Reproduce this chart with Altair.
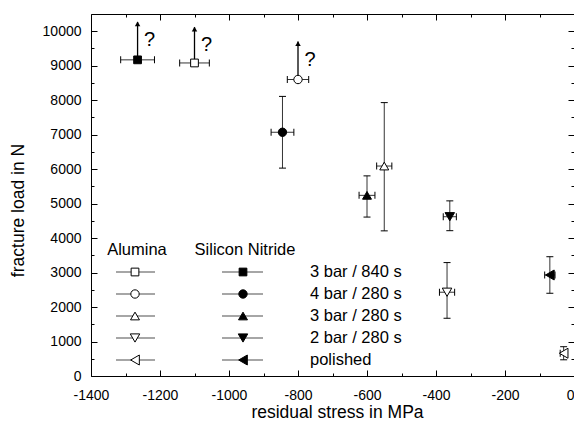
import altair as alt
import pandas as pd

materials = ["Alumina", "Silicon Nitride"]
conditions = ["3 bar / 840 s", "4 bar / 280 s", "3 bar / 280 s", "2 bar / 280 s", "polished"]
shapes = ["square", "circle", "triangle-up", "triangle-down", "triangle-left"]

# Alumina (open symbols), in the order of `conditions`
alumina_stress = [-1100, -800, -550, -368, -30]
alumina_load = [9080, 8600, 6090, 2430, 660]
alumina_stress_err = [43, 31, 22, 22, 10]
alumina_load_low = [None, None, 4210, 1675, 470]
alumina_load_high = [None, None, 7930, 3290, 850]

# Silicon nitride (filled symbols)
sin_stress = [-1265, -845, -600, -360, -70]
sin_load = [9170, 7070, 5240, 4620, 2930]
sin_stress_err = [49, 33, 23, 19, 15]
sin_load_low = [None, 6030, 4610, 4215, 2400]
sin_load_high = [None, 8110, 5805, 5080, 3460]

# lower-bound results (arrow upwards with question mark)
arrow_stress = [-1265, -1100, -800]
arrow_load = [9170, 9080, 8600]
arrow_tip = [10270, 10120, 9700]
arrow_note = ["?", "?", "?"]

x_ticks = list(range(-1400, 1, 200))
x_minor = list(range(-1300, 0, 200))
y_ticks = list(range(0, 10001, 1000))
y_minor = list(range(500, 10001, 1000))

rows = []
for mat, st, ld, se, lo, hi in [
    (materials[0], alumina_stress, alumina_load, alumina_stress_err, alumina_load_low, alumina_load_high),
    (materials[1], sin_stress, sin_load, sin_stress_err, sin_load_low, sin_load_high),
]:
    for i, c in enumerate(conditions):
        rows.append(dict(material=mat, condition=c, stress=st[i], load=ld[i],
                         serr=se[i], lo=lo[i], hi=hi[i], row=i))
df = pd.DataFrame(rows)
df_err = df.dropna(subset=["lo"])
arrows = pd.DataFrame(dict(stress=arrow_stress, load=arrow_load, tip=arrow_tip, note=arrow_note))
legend_df = pd.DataFrame(dict(condition=conditions, row=list(range(len(conditions)))))

FONT = "Liberation Sans"
xs = alt.Scale(domain=[-1400, 0], nice=False, zero=False)
ys = alt.Scale(domain=[0, 10500], nice=False, zero=False)
shape_enc = alt.Shape("condition:N", scale=alt.Scale(domain=conditions, range=shapes), legend=None)
fill_enc = alt.Fill("material:N", scale=alt.Scale(domain=materials, range=["white", "black"]), legend=None)
size_enc = alt.Size("condition:O", scale=alt.Scale(domain=conditions, range=[130, 150, 250, 250, 250]), legend=None)
lsize_enc = alt.Size("condition:O", scale=alt.Scale(domain=conditions, range=[60, 100, 170, 170, 170]), legend=None)


def X(field, axis=None):
    return alt.X(field, type="quantitative", scale=xs, axis=axis)


def Y(field, axis=None):
    return alt.Y(field, type="quantitative", scale=ys, axis=axis)


common = dict(grid=False, domain=False, tickColor="black", tickWidth=1, labelFlush=False,
              labelFont=FONT, labelFontSize=14, labelColor="black")

ax_bottom = alt.Axis(orient="bottom", values=x_ticks, tickSize={"expr": "-6"}, labelPadding=18,
                     labelExpr="'' + datum.value", title="residual stress in MPa",
                     labelAlign={"condition": {"test": "datum.value == 0", "value": "right"},
                                 "value": "center"},
                     titleFont=FONT, titleFontSize=17.5, titleFontWeight="normal", titleColor="black",
                     titleX=246, titleY=36, titleBaseline="middle", titleAlign="center", **common)
ax_left = alt.Axis(orient="left", values=y_ticks, tickSize={"expr": "-6"}, labelPadding=16,
                   labelExpr="'' + datum.value", title="fracture load in N",
                   titleFont=FONT, titleFontSize=17.5, titleFontWeight="normal", titleColor="black",
                   titleX=-73, titleY=196, titleAngle=270, titleBaseline="middle", titleAlign="center",
                   **common)


def plain_axis(orient, values, size):
    return alt.Axis(orient=orient, values=values, tickSize={"expr": str(-size)}, labels=False,
                    title="", **common)


points = alt.Chart(df).mark_point(filled=True, stroke="black", strokeWidth=1, opacity=1).encode(
    x=X("stress", ax_bottom), y=Y("load", ax_left), shape=shape_enc, fill=fill_enc, size=size_enc)

dummy_src = alt.Chart(df).mark_point(opacity=0)
ax_layer1 = dummy_src.encode(x=X("stress", plain_axis("bottom", x_minor, 3)),
                             y=Y("load", plain_axis("left", y_minor, 3)))
ax_layer2 = dummy_src.encode(x=X("stress", plain_axis("top", x_ticks, 6)),
                             y=Y("load", plain_axis("right", y_ticks, 6)))
ax_layer3 = dummy_src.encode(x=X("stress", plain_axis("top", x_minor, 3)),
                             y=Y("load", plain_axis("right", y_minor, 3)))

err_base = alt.Chart(df_err)
v_err = err_base.mark_rule(color="black", strokeWidth=0.8).encode(x=X("stress"), y=Y("lo"), y2="hi")
v_cap_lo = err_base.mark_tick(orient="horizontal", size=7, thickness=1, color="black", opacity=1).encode(
    x=X("stress"), y=Y("lo"))
v_cap_hi = err_base.mark_tick(orient="horizontal", size=7, thickness=1, color="black", opacity=1).encode(
    x=X("stress"), y=Y("hi"))

h_base = alt.Chart(df).transform_calculate(
    xlo="datum.stress - datum.serr", xhi="datum.stress + datum.serr")
h_err = h_base.mark_rule(color="black", strokeWidth=0.8).encode(x=X("xlo:Q"), x2="xhi:Q", y=Y("load"))
h_cap_lo = h_base.mark_tick(orient="vertical", size=7, thickness=1, color="black", opacity=1).encode(
    x=X("xlo:Q"), y=Y("load"))
h_cap_hi = h_base.mark_tick(orient="vertical", size=7, thickness=1, color="black", opacity=1).encode(
    x=X("xhi:Q"), y=Y("load"))

ar_base = alt.Chart(arrows)
ar_line = ar_base.mark_rule(color="black", strokeWidth=1.3).encode(x=X("stress"), y=Y("load"), y2="tip")
ar_head = ar_base.mark_point(shape="triangle-up", filled=True, color="black", size=30, opacity=1,
                             yOffset=2).encode(x=X("stress"), y=Y("tip"))
ar_text = ar_base.mark_text(font=FONT, fontSize=20, dx=12, dy=18, color="black",
                            baseline="middle").encode(x=X("stress"), y=Y("tip"), text="note:N")

# manual legend (positions in pixels of the plot area)
leg = alt.Chart(legend_df).transform_calculate(py="258 + datum.row * 22")
LY = alt.Y("py:Q", scale=None, axis=None)
legend_layers = []
for mat, cx, x0, x1 in [(materials[0], 44, 25, 64), (materials[1], 152, 131, 172)]:
    legend_layers.append(leg.mark_rule(color="black", strokeWidth=0.7).encode(
        x=alt.value(x0), x2=alt.value(x1), y=LY))
    legend_layers.append(leg.transform_calculate(material=f"'{mat}'").mark_point(
        filled=True, stroke="black", strokeWidth=1, opacity=1).encode(
        x=alt.value(cx), y=LY, shape=shape_enc, fill=fill_enc, size=lsize_enc))
    legend_layers.append(alt.Chart(pd.DataFrame(dict(name=[mat]))).mark_text(
        font=FONT, fontSize=16.5, color="black", align="center", baseline="middle").encode(
        x=alt.value(cx + 2), y=alt.value(236), text="name:N"))
legend_layers.append(leg.mark_text(font=FONT, fontSize=16.5, color="black", align="left",
                                   baseline="middle").encode(x=alt.value(219), y=LY, text="condition:N"))

chart = alt.layer(
    ax_layer1, ax_layer2, ax_layer3,
    v_err, v_cap_lo, v_cap_hi, h_err, h_cap_lo, h_cap_hi,
    ar_line, ar_head, ar_text,
    *legend_layers,
    points,
).resolve_axis(x="independent", y="independent").properties(
    width=483, height=362,
    autosize=alt.AutoSizeParams(type="none"),
    padding={"left": 83, "top": 6, "right": 0, "bottom": 47},
    background="white",
).configure_view(stroke="black", strokeWidth=1)

chart.save("out.html", embed_options={"renderer": "svg", "actions": False})
